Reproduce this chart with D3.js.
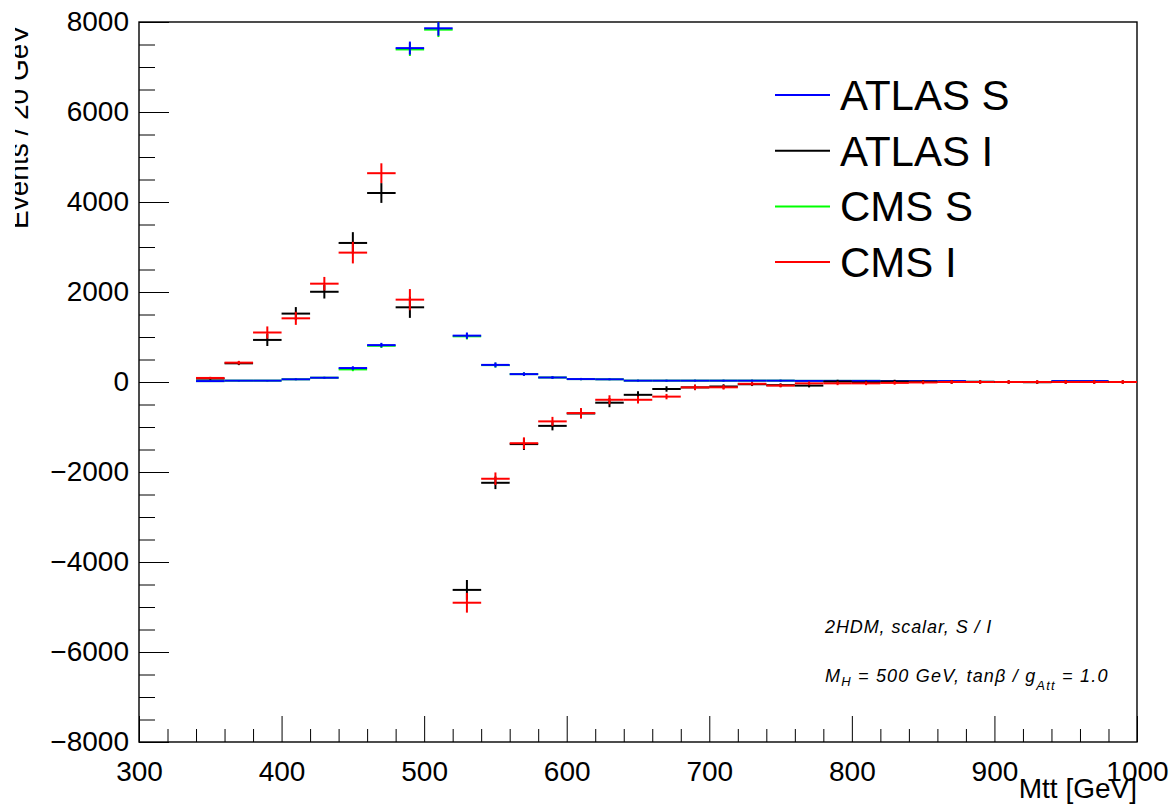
<!DOCTYPE html>
<html>
<head>
<meta charset="utf-8">
<script src="https://cdn.jsdelivr.net/npm/d3@7"></script>
<style>
  body { margin: 0; background: #fff; }
  svg { display: block; }
</style>
</head>
<body>
<div id="chart"></div>
<script>
// bin lower edges, 20 GeV wide
var binLow = d3.range(340, 1000, 20);

var atlasS = [20, 30, 30, 60, 95, 310, 820, 7420, 7860, 1030, 380, 175, 100, 65, 60, 30, 30,
              30, 30, 30, 30, 25, 25, 25, 20, 20, 20, 5, 0, 0, 20, 20, 0];
var cmsS   = [20, 30, 30, 60, 95, 280, 805, 7390, 7830, 1015, 375, 175, 100, 65, 60, 30, 30,
              30, 30, 30, 30, 25, 25, 25, 20, 20, 20, 5, 0, 0, 20, 20, 0];
var atlasI = [75, 415, 935, 1520, 2005, 3090, 4200, 1660, null, -4620, -2240, -1380, -975, -700, -460, -285, -155,
              -120, -100, -50, -70, -80, 10, -10, 10, 5, 0, 0, 0, -5, 0, 0, 0];
var cmsI   = [90, 430, 1100, 1415, 2185, 2875, 4640, 1830, null, -4905, -2150, -1360, -875, -690, -395, -395, -325,
              -120, -118, -40, -80, -30, -30, -30, -20, -10, 0, 0, 0, 0, 0, 0, 0];

var errS = [10, 15, 15, 20, 20, 40, 50, 145, 165, 70, 55, 40, 30, 25, 20, 20, 20,
            20, 20, 20, 20, 20, 20, 20, 20, 20, 20, 20, 20, 20, 20, 20, 20];
var errI = [25, 40, 135, 145, 150, 240, 220, 235, 0, 220, 140, 130, 100, 110, 100, 80, 60,
            60, 50, 40, 40, 40, 40, 40, 40, 40, 40, 40, 40, 40, 40, 40, 40];

var legendNames = ["ATLAS S", "ATLAS I", "CMS S", "CMS I"];
var legendColors = ["#0000ff", "#000000", "#00ff00", "#ff0000"];

var width = 1174, height = 805;
var padLeft = 139, padRight = 1137, padTop = 22, padBottom = 742;
var font = "'Liberation Sans', Arial, Helvetica, sans-serif";

var svg = d3.select("#chart").append("svg")
    .attr("width", width)
    .attr("height", height)
    .style("font-family", font);

var x = d3.scaleLinear().domain([300, 1000]).range([padLeft, padRight]);
var y = d3.scaleLinear().domain([-8000, 8000]).range([padBottom, padTop]);

svg.append("clipPath").attr("id", "plotclip")
    .append("rect")
    .attr("x", padLeft).attr("y", padTop)
    .attr("width", padRight - padLeft).attr("height", padBottom - padTop);

// axes, ticks point inwards
var yMajor = d3.range(-8000, 8001, 2000);
var yMinor = d3.range(-8000, 8001, 500).filter(d => d % 2000 !== 0);
var xMajor = d3.range(300, 1001, 100);
var xMinor = d3.range(300, 1001, 20).filter(d => d % 100 !== 0);

function styleAxis(g) {
    g.select(".domain").remove();
    g.selectAll("line").attr("stroke", "#000").attr("stroke-width", 1);
    g.selectAll("text").attr("fill", "#000")
        .style("font-family", font).style("font-size", "28px");
}

svg.append("g").attr("transform", "translate(" + padLeft + ",0)")
    .call(d3.axisLeft(y).tickValues(yMinor).tickSize(-16).tickFormat(""))
    .call(styleAxis);
svg.append("g").attr("transform", "translate(" + padLeft + ",0)")
    .call(d3.axisLeft(y).tickValues(yMajor).tickSize(-30).tickPadding(10).tickFormat(d3.format("d")))
    .call(styleAxis);

svg.append("g").attr("transform", "translate(0," + padBottom + ")")
    .call(d3.axisBottom(x).tickValues(xMinor).tickSize(-13).tickFormat(""))
    .call(styleAxis);
svg.append("g").attr("transform", "translate(0," + padBottom + ")")
    .call(d3.axisBottom(x).tickValues(xMajor).tickSize(-26).tickPadding(19).tickFormat(d3.format("d")))
    .call(styleAxis);

// frame
svg.append("rect")
    .attr("x", padLeft).attr("y", padTop)
    .attr("width", padRight - padLeft).attr("height", padBottom - padTop)
    .attr("fill", "none").attr("stroke", "#000").attr("stroke-width", 1.4);

// histograms with error bars
var series = [
    { values: cmsS, err: errS, color: legendColors[2] },
    { values: atlasS, err: errS, color: legendColors[0] },
    { values: atlasI, err: errI, color: legendColors[1] },
    { values: cmsI, err: errI, color: legendColors[3] }
];

var plot = svg.append("g").attr("clip-path", "url(#plotclip)");

series.forEach(function(s) {
    var pts = binLow.map(function(lo, i) {
        return { lo: lo, v: s.values[i], e: s.err[i] };
    }).filter(d => d.v !== null);

    var g = plot.append("g").attr("stroke", s.color).attr("stroke-width", 2);

    g.selectAll("line.h").data(pts).enter().append("line")
        .attr("class", "h")
        .attr("x1", d => x(d.lo)).attr("x2", d => x(d.lo + 20))
        .attr("y1", d => y(d.v)).attr("y2", d => y(d.v));

    g.selectAll("line.v").data(pts.filter(d => d.e > 0)).enter().append("line")
        .attr("class", "v")
        .attr("x1", d => x(d.lo + 10)).attr("x2", d => x(d.lo + 10))
        .attr("y1", d => y(d.v - d.e)).attr("y2", d => y(d.v + d.e));
});

// legend
var leg = svg.append("g");
legendNames.forEach(function(name, i) {
    var cy = 95 + i * 55.7;
    leg.append("line")
        .attr("x1", 775).attr("x2", 830)
        .attr("y1", cy).attr("y2", cy)
        .attr("stroke", legendColors[i]).attr("stroke-width", 2);
    leg.append("text")
        .attr("x", 840).attr("y", cy + 15)
        .style("font-size", "42px")
        .text(name);
});

// axis titles
svg.append("text")
    .attr("x", padRight).attr("y", 798)
    .attr("text-anchor", "end")
    .style("font-size", "28px")
    .text("Mtt [GeV]");

svg.append("clipPath").attr("id", "ytclip")
    .append("rect").attr("x", 15).attr("y", 0).attr("width", 40).attr("height", 300);
svg.append("g").attr("clip-path", "url(#ytclip)")
    .append("text")
    .attr("transform", "translate(27.5,25) rotate(-90)")
    .attr("text-anchor", "end")
    .style("font-size", "28px")
    .text("Events / 20 GeV");

// annotation
var note = svg.append("g")
    .style("font-style", "italic")
    .style("font-size", "18px");
note.append("text").attr("x", 825).attr("y", 633)
    .style("letter-spacing", "0.9px")
    .text("2HDM, scalar, S / I");

var t2 = note.append("text").attr("x", 825).attr("y", 682)
    .style("letter-spacing", "1.2px");
t2.append("tspan").text("M");
t2.append("tspan").attr("dy", 4).style("font-size", "13px").text("H");
t2.append("tspan").attr("dy", -4).text(" = 500 GeV, tan\u03b2 / g");
t2.append("tspan").attr("dy", 8).style("font-size", "13px").text("Att");
t2.append("tspan").attr("dy", -8).text(" = 1.0");
</script>
</body>
</html>
